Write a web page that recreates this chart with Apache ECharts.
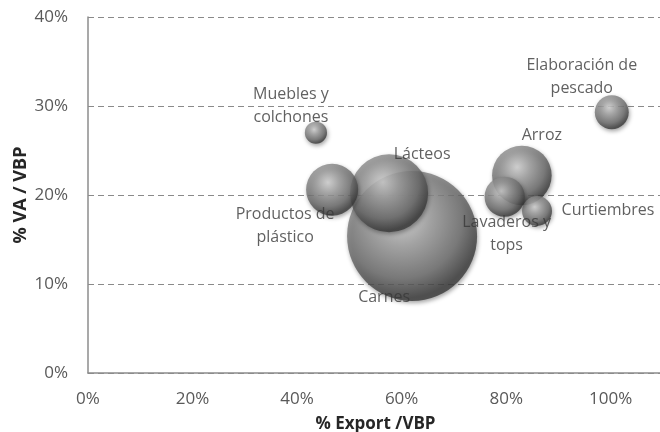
<!DOCTYPE html>
<html>
<head>
<meta charset="utf-8">
<script src="https://cdn.jsdelivr.net/npm/echarts@6/dist/echarts.min.js"></script>
<style>
  html, body { margin: 0; padding: 0; background: #fff; }
  #chart { width: 660px; height: 432px; }
</style>
</head>
<body>
<div id="chart"></div>
<script>
// Sectors: export share of gross output (x), value added share of gross output (y), gross output (bubble size)
const sectors = ['Carnes', 'Lácteos', 'Productos de\nplástico', 'Muebles y\ncolchones', 'Arroz', 'Curtiembres', 'Lavaderos y\ntops', 'Elaboración de\npescado'];
const exportShare = [0.62, 0.576, 0.467, 0.436, 0.83, 0.859, 0.797, 1.002];
const vaShare = [0.154, 0.202, 0.206, 0.270, 0.222, 0.182, 0.198, 0.293];
const grossOutput = [100, 36, 16, 2.9, 21, 5.3, 9.5, 6.8];

const xTicks = [0, 0.2, 0.4, 0.6, 0.8, 1.0];
const yTicks = [0, 0.1, 0.2, 0.3, 0.4];

// where each sector's label sits relative to its bubble centre
const labelOffset = {
  'Carnes': [-28, 61],
  'Lácteos': [33, -39],
  'Productos de\nplástico': [-47, 36],
  'Muebles y\ncolchones': [-25, -27],
  'Arroz': [20, -40],
  'Curtiembres': [71, -1],
  'Lavaderos y\ntops': [2, 37],
  'Elaboración de\npescado': [-30, -35]
};

const FONT = '"Open Sans", sans-serif';
const pct = v => Math.round(v * 100) + '%';

const sphere = {
  type: 'radial', x: 0.42, y: 0.36, r: 0.62,
  colorStops: [
    { offset: 0, color: '#d8d8d8' },
    { offset: 0.35, color: '#a2a2a2' },
    { offset: 0.75, color: '#6e6e6e' },
    { offset: 1, color: '#3a3a3a' }
  ]
};

const points = sectors.map((name, i) => ({
  name: name,
  value: [exportShare[i], vaShare[i], grossOutput[i]],
  label: { offset: labelOffset[name] }
}));

const chart = echarts.init(document.getElementById('chart'), null, { renderer: 'canvas' });
chart.setOption({
  animation: false,
  backgroundColor: '#ffffff',
  grid: { left: 88, top: 17, right: -3, bottom: 59, containLabel: false, outerBoundsMode: 'none' },
  xAxis: {
    type: 'value', min: 0, max: 1.1, interval: 0.2,
    name: '% Export /VBP', nameLocation: 'middle', nameGap: 43,
    nameTextStyle: { fontFamily: FONT, fontWeight: 'bold', fontSize: 17, color: '#262626' },
    axisLine: { show: true, lineStyle: { color: '#8c8c8c', width: 1.5 } },
    axisTick: { show: false },
    splitLine: { show: false },
    axisLabel: {
      margin: 18, fontFamily: FONT, fontSize: 17, color: '#595959',
      formatter: v => xTicks.some(t => Math.abs(t - v) < 1e-9) ? pct(v) : ''
    }
  },
  yAxis: {
    type: 'value', min: 0, max: 0.4, interval: 0.1,
    name: '% VA / VBP', nameLocation: 'middle', nameGap: 58, nameRotate: 90,
    nameMoveOverlap: false,
    nameTextStyle: { fontFamily: FONT, fontWeight: 'bold', fontSize: 18, color: '#262626' },
    axisLine: { show: true, lineStyle: { color: '#8c8c8c', width: 1.5 } },
    axisTick: { show: false },
    splitLine: { show: true, lineStyle: { color: '#8a8a8a', type: [6, 4], width: 1 } },
    axisLabel: {
      margin: 20, fontFamily: FONT, fontSize: 17, color: '#595959',
      formatter: v => yTicks.some(t => Math.abs(t - v) < 1e-9) ? pct(v) : ''
    }
  },
  series: [{
    type: 'scatter',
    data: points,
    symbol: 'circle',
    symbolSize: d => 130 * Math.sqrt(d[2] / 100),
    itemStyle: {
      color: sphere,
      shadowBlur: 4,
      shadowColor: 'rgba(0,0,0,0.45)',
      shadowOffsetX: 1,
      shadowOffsetY: 2
    },
    label: {
      show: true,
      position: 'inside',
      formatter: p => p.name,
      fontFamily: FONT,
      fontSize: 16,
      lineHeight: 23,
      color: '#383838',
      align: 'center'
    },
    emphasis: { disabled: true }
  }]
});
</script>
</body>
</html>
